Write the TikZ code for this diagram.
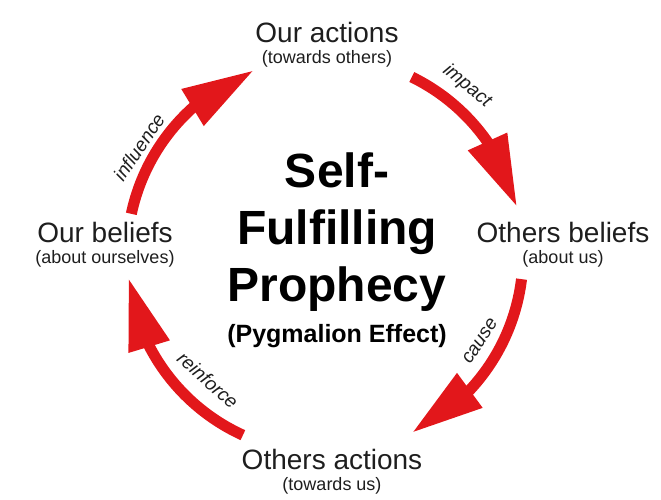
\documentclass[tikz,border=0pt]{standalone}
\usepackage{fontspec}
\setmainfont{Liberation Sans}
\usetikzlibrary{arrows.meta,bending,positioning}
\definecolor{flowred}{HTML}{E2171B}
\definecolor{ink}{HTML}{1E1E1E}
\tikzset{stage/.style={inner sep=0pt,text=ink,anchor=base,font=\fontsize{28}{30}\selectfont}, sub/.style={inner sep=0pt,text=ink,font=\fontsize{18}{20}\selectfont},verb/.style={inner sep=0pt,text=ink,font=\itshape\fontsize{19}{20}\selectfont},title/.style={inner sep=0pt,anchor=base,font=\bfseries\fontsize{48}{57}\selectfont},flow/.style={draw=flowred,line width=11pt,-{Triangle[length=72pt,width=40pt,flex]}}}

\begin{document}
\begin{tikzpicture}[x=1pt,y=1pt]
\useasboundingbox (0,0) rectangle (661,500);
\coordinate (o) at (325,245);
\node[stage] (oa) at (327,457) {Our actions};
\node[sub,below=7pt of oa] (oas) {(towards others)};
\node[stage] (ob) at (563,257) {Others beliefs};
\node[sub,below=7pt of ob] (obs) {(about us)};
\node[stage] (ot) at (332,30) {Others actions};
\node[sub,below=7pt of ot] (ots) {(towards us)};
\node[stage] (ub) at (105,257) {Our beliefs};
\node[sub,below=7pt of ub] (ubs) {(about ourselves)};
\node[title] (t1) at (337,312) {Self-};
\node[title] (t2) at (337,255) {Fulfilling};
\node[title] (t3) at (337,198) {Prophecy};
\node[title,font=\bfseries\fontsize{25}{28}\selectfont] (pe) at (337,157) {(Pygmalion Effect)};
% cycle arrows
\draw[flow] (o) ++(168:198pt) arc[start angle=168,end angle=111,radius=198pt];
\draw[flow] (o) ++(64:198pt) arc[start angle=64,end angle=14,radius=198pt];
\draw[flow] (o) ++(-7:198pt) arc[start angle=-7,end angle=-64,radius=198pt];
\draw[flow] (o) ++(245.5:198pt) arc[start angle=245.5,end angle=186.6,radius=198pt];
\node[verb,rotate=56] (inf) at (139,353) {influence};
\node[verb,rotate=-39] (imp) at (467,414) {impact};
\node[verb,rotate=57] (cau) at (480,159) {cause};
\node[verb,rotate=-42] (rei) at (208,120) {reinforce};
\end{tikzpicture}
\end{document}
